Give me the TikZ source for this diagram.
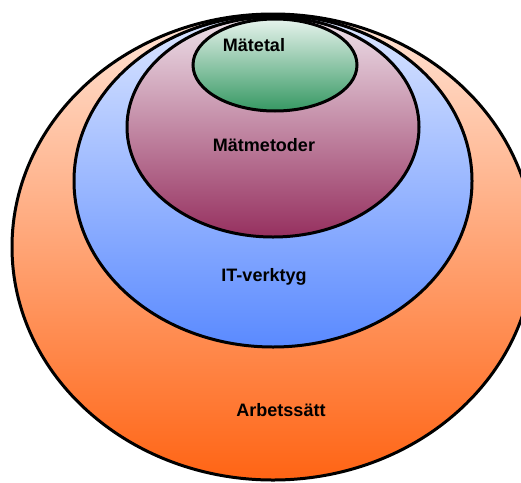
\documentclass[tikz,border=0pt]{standalone}
\usepackage{fontspec}
\setmainfont{Liberation Sans}
\begin{document}
\begin{tikzpicture}[x=1pt,y=-1pt,
  ring/.style={draw=black,line width=3pt},
  lbl/.style={font=\bfseries\fontsize{18}{20}\selectfont,text=black,inner sep=0pt}]
\useasboundingbox (0,0) rectangle (521,482);
\clip (0,0) rectangle (521,482);
\definecolor{orTop}{HTML}{FFE4D6}
\definecolor{orBot}{HTML}{FF6414}
\definecolor{blTop}{HTML}{DCE6FF}
\definecolor{blBot}{HTML}{5A8AFF}
\definecolor{mrTop}{HTML}{EEE2EA}
\definecolor{mrBot}{HTML}{96305F}
\definecolor{grTop}{HTML}{E6F3EC}
\definecolor{grBot}{HTML}{369863}
\path[ring,top color=orTop,bottom color=orBot] (273,247) ellipse [x radius=261,y radius=233];
\path[ring,top color=blTop,bottom color=blBot] (273,181) ellipse [x radius=199,y radius=166];
\path[ring,top color=mrTop,bottom color=mrBot] (273,127) ellipse [x radius=146,y radius=110];
\path[ring,top color=grTop,bottom color=grBot] (275,65) ellipse [x radius=82,y radius=46];
\node[lbl] (arb) at (281,410) {Arbetssätt};
\node[lbl] (it) at (264,277) {IT-verktyg};
\node[lbl] (mm) at (264,145) {Mätmetoder};
\node[lbl] (mt) at (254,45) {Mätetal};
\end{tikzpicture}
\end{document}
